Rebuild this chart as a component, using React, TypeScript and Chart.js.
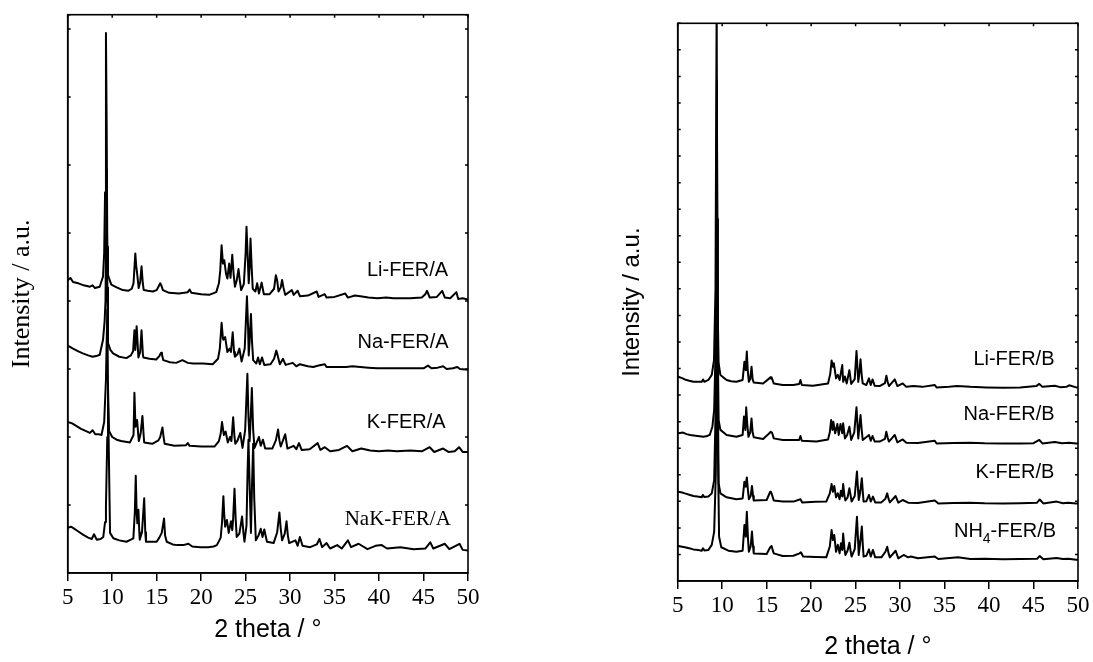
import React, { useEffect, useRef } from "react";
import { Chart, registerables } from "chart.js";
Chart.register(...registerables);

type Pt = [number, number];

const SANS = "'Liberation Sans', Arial, sans-serif";
const SERIF = "'Liberation Serif', 'Times New Roman', serif";

const xTicks = [5, 10, 15, 20, 25, 30, 35, 40, 45, 50];

// ---------- Panel A (left) ----------
const liA: Pt[] = [[5.0,431],[5.07,431],[5.3,434],[5.6,428],[6.2,426],[6.8,423],[7.5,421],[7.8,423],[8.07,419],[8.6,421],[8.97,436],[9.1,470],[9.2,560],[9.3,794],[9.38,660],[9.45,480],[9.53,438],[9.9,424],[10.5,420],[11.2,416],[11.8,415],[12.2,418],[12.4,426],[12.6,470],[12.7,452],[12.8,441],[12.98,419],[13.15,428],[13.3,451],[13.45,425],[13.55,416],[14.0,415],[14.56,414],[15.0,416],[15.2,421],[15.4,426],[15.55,422],[15.7,416],[16.4,412],[17.5,411],[18.5,413],[18.7,417],[18.9,412],[20.0,410],[20.9,409],[21.7,413],[22.0,426],[22.15,445],[22.3,482],[22.45,455],[22.6,460],[22.8,440],[22.95,433],[23.15,455],[23.3,434],[23.5,468],[23.65,440],[23.8,421],[24.0,430],[24.2,447],[24.35,430],[24.5,416],[24.8,425],[25.0,470],[25.1,509],[25.22,470],[25.35,426],[25.45,450],[25.55,492],[25.68,450],[25.8,418],[26.1,414],[26.3,426],[26.5,411],[26.8,427],[27.05,410],[27.7,410],[28.2,418],[28.4,438],[28.55,430],[28.7,414],[28.95,420],[29.1,431],[29.25,420],[29.45,409],[30.2,416],[30.4,409],[30.85,415],[31.1,407],[32.0,408],[33.0,414],[33.2,406],[33.9,410],[34.1,405],[35.0,406],[36.2,411],[36.5,405],[37.3,408],[37.9,407],[38.8,405],[39.8,404],[40.8,405],[41.6,404],[42.5,404],[43.5,404],[44.8,405],[45.2,410],[45.4,415],[45.7,405],[46.5,406],[47.1,415],[47.4,405],[48.0,404],[48.7,413],[48.9,403],[49.4,404],[50.0,402]];

const naA: Pt[] = [[5.0,334],[5.07,334],[5.6,330],[6.2,326],[6.7,323],[7.3,320],[7.8,318],[8.2,319],[8.6,321],[8.97,343],[9.15,370],[9.25,400],[9.38,593],[9.46,420],[9.53,338],[9.8,328],[10.1,323],[10.8,318],[11.6,316],[12.1,320],[12.35,326],[12.5,357],[12.6,328],[12.75,363],[12.95,317],[13.15,325],[13.3,357],[13.45,322],[13.5,317],[14.2,315],[14.95,314],[15.3,319],[15.5,324],[15.6,321],[15.75,313],[16.5,310],[17.2,309],[17.9,313],[18.5,309],[19.1,308],[20.2,308],[21.3,307],[21.9,315],[22.1,330],[22.3,368],[22.45,345],[22.5,343],[22.7,347],[22.95,325],[23.2,330],[23.35,325],[23.55,354],[23.7,325],[23.8,318],[24.1,322],[24.3,330],[24.55,311],[24.9,330],[25.15,407],[25.28,360],[25.35,320],[25.45,340],[25.6,381],[25.72,340],[25.85,313],[26.2,308],[26.4,317],[26.6,307],[26.85,317],[27.1,306],[27.8,307],[28.2,315],[28.45,327],[28.6,320],[28.85,307],[29.2,315],[29.5,306],[30.3,309],[30.7,304],[31.1,307],[32.0,304],[32.6,303],[33.2,305],[33.9,307],[34.1,303],[35.0,303],[36.3,303],[37.0,304],[37.9,303],[38.8,302],[39.8,301],[41.6,301],[43.5,301],[45.0,301],[45.5,305],[45.9,301],[46.6,302],[47.2,304],[47.6,300],[48.3,301],[48.8,303],[49.1,300],[50.0,299]];

const kA: Pt[] = [[5.0,222],[5.5,220],[6.0,216],[6.5,212],[7.0,209],[7.5,206],[7.8,210],[8.1,204],[8.5,204],[8.8,203],[9.1,222],[9.3,284],[9.45,387],[9.55,250],[9.65,209],[10.0,200],[10.5,196],[11.0,194],[12.0,192],[12.4,203],[12.5,265],[12.62,215],[12.8,225],[12.95,200],[13.0,194],[13.2,205],[13.4,231],[13.55,200],[13.6,192],[14.5,190],[15.2,195],[15.4,200],[15.65,214],[15.8,198],[15.9,190],[17.0,187],[18.3,188],[18.5,191],[18.7,187],[20.0,186],[21.5,186],[22.0,194],[22.2,205],[22.35,222],[22.55,203],[22.75,208],[23.0,192],[23.25,200],[23.4,194],[23.6,229],[23.75,200],[23.85,190],[24.1,195],[24.4,206],[24.65,184],[24.95,210],[25.2,293],[25.32,230],[25.45,194],[25.55,220],[25.7,272],[25.85,210],[26.0,184],[26.5,200],[26.7,187],[26.95,196],[27.2,183],[28.0,183],[28.4,195],[28.65,211],[28.8,195],[28.95,186],[29.2,195],[29.45,204],[29.7,183],[30.4,187],[30.7,182],[31.0,191],[31.3,181],[32.2,182],[33.1,191],[33.4,181],[33.9,185],[34.5,179],[35.5,181],[36.4,187],[37.0,179],[38.0,183],[39.0,180],[40.0,179],[41.0,180],[42.0,179],[43.5,180],[44.8,179],[45.7,185],[46.2,178],[47.2,183],[47.8,178],[48.5,179],[49.0,185],[49.4,178],[50.0,178]];

const nakA: Pt[] = [[5.0,67],[5.07,67],[5.4,68],[5.63,66],[6.2,61],[6.76,56],[7.3,52],[7.7,50],[7.96,57],[8.26,49],[8.7,50],[9.0,53],[9.2,75],[9.3,98],[9.45,200],[9.53,277],[9.62,180],[9.76,59],[10.13,51],[10.8,48],[11.6,46],[12.1,49],[12.38,51],[12.55,90],[12.65,143],[12.75,90],[12.83,73],[12.95,93],[13.05,60],[13.1,49],[13.35,60],[13.6,110],[13.72,60],[13.8,46],[14.5,46],[15.0,46],[15.3,52],[15.57,59],[15.83,80],[15.95,55],[16.13,46],[16.8,42],[17.3,41],[18.0,41],[18.57,43],[19.0,39],[19.9,38],[20.8,38],[21.4,39],[21.77,41],[22.2,52],[22.35,75],[22.5,113],[22.6,85],[22.7,68],[22.9,78],[23.1,59],[23.35,76],[23.5,63],[23.6,80],[23.75,124],[23.88,80],[24.0,53],[24.3,58],[24.6,83],[24.75,60],[24.87,46],[25.1,70],[25.22,150],[25.32,196],[25.45,130],[25.6,59],[25.72,130],[25.85,190],[25.97,110],[26.15,48],[26.45,55],[26.7,65],[26.9,53],[27.1,64],[27.4,46],[28.15,44],[28.55,60],[28.8,89],[28.95,65],[29.1,48],[29.4,58],[29.6,76],[29.75,55],[29.9,44],[30.6,48],[30.85,40],[31.1,53],[31.4,40],[32.25,38],[33.0,42],[33.3,50],[33.6,38],[34.1,44],[34.5,36],[35.3,41],[35.8,36],[36.5,48],[36.85,38],[37.7,43],[38.7,35],[39.6,40],[40.3,41],[40.9,36],[42.4,38],[43.9,35],[45.2,36],[45.76,45],[46.1,36],[47.4,43],[47.9,35],[49.05,43],[49.4,34],[50.0,33]];

// ---------- Panel B (right) ----------
const liB: Pt[] = [[5.0,769],[5.07,769],[5.5,764],[5.8,759],[6.3,754],[6.76,750],[7.3,750],[7.7,750],[7.85,759],[8.0,750],[8.45,757],[8.83,776],[9.08,832],[9.25,1100],[9.38,2200],[9.46,1100],[9.6,820],[9.8,776],[10.5,757],[11.0,752],[11.6,750],[12.3,757],[12.5,826],[12.65,794],[12.77,864],[12.88,790],[13.0,750],[13.15,760],[13.3,807],[13.42,760],[13.55,747],[14.6,744],[15.3,763],[15.4,767],[15.47,763],[15.55,767],[15.8,744],[16.8,738],[18.0,738],[18.65,742],[18.8,757],[18.95,738],[20.2,735],[21.9,744],[22.15,780],[22.3,830],[22.45,807],[22.55,820],[22.8,763],[23.0,776],[23.2,757],[23.5,813],[23.6,750],[23.8,770],[24.0,744],[24.3,794],[24.5,742],[24.9,760],[25.1,866],[25.3,750],[25.45,790],[25.55,835],[25.7,770],[25.8,744],[26.2,738],[26.5,763],[26.7,738],[26.9,759],[27.15,735],[27.7,734],[28.3,745],[28.46,773],[28.6,750],[28.75,734],[29.4,759],[29.7,734],[30.3,744],[30.7,731],[31.5,734],[32.5,731],[33.9,738],[34.1,729],[35.5,731],[36.4,734],[37.9,731],[39.7,729],[41.6,728],[43.5,729],[45.3,734],[45.65,742],[46.0,731],[47.4,735],[48.0,730],[48.7,731],[49.0,737],[49.8,729],[50.0,729]];

const naB: Pt[] = [[5.0,556],[5.07,556],[5.6,559],[6.0,553],[6.4,550],[7.0,547],[7.9,543],[8.3,546],[8.6,550],[8.9,581],[9.1,644],[9.28,900],[9.4,1886],[9.5,900],[9.6,606],[9.8,569],[10.5,550],[11.6,543],[12.3,550],[12.45,619],[12.6,569],[12.7,654],[12.82,590],[12.95,543],[13.15,560],[13.3,612],[13.42,560],[13.55,541],[14.6,535],[15.3,556],[15.45,562],[15.6,559],[15.8,537],[16.8,531],[18.0,531],[18.65,531],[18.8,546],[18.95,528],[20.6,525],[21.9,533],[22.1,560],[22.25,606],[22.4,569],[22.5,600],[22.7,556],[22.95,591],[23.1,550],[23.3,591],[23.5,556],[23.6,594],[23.8,537],[24.05,550],[24.3,581],[24.5,531],[24.85,560],[25.1,654],[25.3,537],[25.42,580],[25.55,625],[25.68,570],[25.8,531],[26.5,550],[26.7,528],[26.9,546],[27.15,525],[27.7,525],[28.3,535],[28.45,562],[28.6,540],[28.75,525],[29.4,550],[29.7,522],[30.3,533],[30.7,521],[32.0,520],[33.9,528],[34.1,518],[36.0,520],[37.9,521],[39.5,519],[41.6,518],[43.5,518],[45.0,519],[45.65,531],[46.0,518],[47.4,523],[48.2,519],[49.0,521],[49.8,518],[50.0,518]];

const kB: Pt[] = [[5.0,336],[5.07,336],[5.5,333],[5.8,330],[6.3,325],[6.76,320],[7.2,318],[7.7,315],[7.82,324],[8.0,316],[8.45,318],[8.83,330],[9.1,380],[9.3,700],[9.42,1363],[9.52,700],[9.6,368],[9.8,330],[10.5,315],[11.6,308],[12.3,311],[12.5,374],[12.65,355],[12.77,390],[12.9,340],[13.0,308],[13.2,320],[13.35,358],[13.47,320],[13.55,303],[15.0,305],[15.4,336],[15.48,333],[15.55,330],[15.8,303],[16.8,299],[18.0,299],[18.8,308],[19.0,296],[20.5,298],[21.7,299],[22.1,330],[22.3,365],[22.45,336],[22.6,358],[22.8,315],[23.0,330],[23.2,308],[23.35,340],[23.5,318],[23.6,365],[23.75,320],[23.85,303],[24.1,315],[24.3,349],[24.45,320],[24.55,299],[24.9,320],[25.15,412],[25.28,340],[25.35,305],[25.5,330],[25.7,387],[25.82,330],[25.9,299],[26.2,300],[26.5,324],[26.7,299],[26.95,318],[27.2,296],[27.9,296],[28.35,310],[28.55,330],[28.7,310],[28.85,296],[29.5,320],[29.8,295],[30.3,305],[30.9,295],[32.0,294],[33.9,303],[34.3,292],[36.0,294],[37.9,295],[39.5,293],[41.6,292],[43.5,293],[45.4,295],[45.7,307],[46.1,292],[47.6,299],[48.3,293],[48.9,295],[49.8,292],[50.0,292]];

const nh4B: Pt[] = [[5.0,132],[5.07,132],[5.5,129],[5.8,127],[6.3,123],[6.76,119],[7.3,117],[7.7,114],[7.85,123],[8.0,115],[8.45,117],[8.83,136],[9.1,186],[9.28,400],[9.42,945],[9.52,500],[9.65,167],[9.9,127],[10.7,114],[11.6,110],[12.3,114],[12.5,211],[12.65,167],[12.77,261],[12.9,160],[13.0,110],[13.2,130],[13.35,186],[13.47,130],[13.55,104],[15.0,102],[15.4,127],[15.55,132],[15.65,120],[15.8,104],[16.8,94],[18.0,95],[18.7,104],[18.85,108],[19.1,92],[20.5,90],[21.7,89],[22.1,130],[22.3,192],[22.45,154],[22.6,173],[22.8,110],[23.0,136],[23.2,104],[23.35,142],[23.5,117],[23.6,179],[23.75,120],[23.85,98],[24.1,115],[24.3,144],[24.45,110],[24.55,92],[24.9,120],[25.15,242],[25.28,150],[25.35,98],[25.5,140],[25.7,205],[25.82,130],[25.9,92],[26.2,95],[26.5,119],[26.7,92],[26.95,117],[27.2,89],[27.9,89],[28.35,110],[28.55,129],[28.7,105],[28.85,89],[29.5,114],[29.8,85],[30.4,98],[30.9,89],[31.2,92],[32.0,86],[33.9,92],[34.3,83],[36.5,89],[37.9,83],[39.5,84],[41.6,82],[43.5,83],[45.4,84],[45.7,94],[46.1,82],[47.6,87],[48.3,83],[48.9,84],[49.8,80],[50.0,80]];

const seriesA = [liA, naA, kA, nakA];
const seriesB = [liB, naB, kB, nh4B];

const namesA = ["Li-FER/A", "Na-FER/A", "K-FER/A", "NaK-FER/A"];
const namesB = ["Li-FER/B", "Na-FER/B", "K-FER/B", "NH4-FER/B"];
// label anchors in data coordinates (2θ, intensity)
const anchorsA: Pt[] = [[43.2, 445], [42.7, 339], [43.05, 222], [42.1, 79]];
const anchorsB: Pt[] = [[42.8, 834], [42.25, 626], [42.9, 407], [41.8, 186]];

const xTitle = "2 theta / \u00B0";
const yTitle = "Intensity / a.u.";

interface PanelCfg {
  series: Pt[][];
  names: string[];
  anchors: Pt[];
  labelFonts: string[];
  yMax: number;
  yStep: number;
  yWidth: number;
  xHeight: number;
  padTop: number;
  padRight: number;
  yTitleFont: string;
  yTitleSize: number;
  yTitlePad: number;
  xTitlePad: number;
}

function drawLabel(ctx: CanvasRenderingContext2D, text: string, cx: number, cy: number, font: string) {
  ctx.font = font;
  ctx.textBaseline = "middle";
  ctx.fillStyle = "#000";
  const m = text.match(/^(NH)(4)(.*)$/);
  if (m) {
    const subFont = font.replace(/\d+px/, "14px");
    const w1 = ctx.measureText(m[1]).width;
    const w3 = ctx.measureText(m[3]).width;
    ctx.font = subFont;
    const w2 = ctx.measureText(m[2]).width;
    const total = w1 + w2 + w3;
    let x = cx - total / 2;
    ctx.textAlign = "left";
    ctx.font = font;
    ctx.fillText(m[1], x, cy);
    x += w1;
    ctx.font = subFont;
    ctx.fillText(m[2], x, cy + 8);
    x += w2;
    ctx.font = font;
    ctx.fillText(m[3], x, cy);
  } else {
    ctx.textAlign = "center";
    ctx.fillText(text, cx, cy);
  }
}

function Panel({ cfg, left, width }: { cfg: PanelCfg; left: number; width: number }) {
  const ref = useRef<HTMLCanvasElement | null>(null);
  useEffect(() => {
    if (!ref.current) return;
    const framePlugin = {
      id: "frameAndLabels",
      afterDraw(chart: any) {
        const { ctx, chartArea } = chart;
        const { left: l, right: r, top: t, bottom: b } = chartArea;
        const xs = chart.scales.x;
        const ys = chart.scales.y;
        ctx.save();
        ctx.strokeStyle = "#000";
        ctx.lineWidth = 1.6;
        ctx.strokeRect(l, t, r - l, b - t);
        ctx.lineWidth = 1.5;
        ctx.beginPath();
        ys.ticks.forEach((tk: any) => {
          const py = ys.getPixelForValue(tk.value);
          ctx.moveTo(l, py); ctx.lineTo(l + 3, py);
          ctx.moveTo(r - 3, py); ctx.lineTo(r, py);
        });
        xs.ticks.forEach((tk: any) => {
          const px = xs.getPixelForValue(tk.value);
          ctx.moveTo(px, t); ctx.lineTo(px, t + 3);
        });
        ctx.stroke();
        cfg.names.forEach((name, i) => {
          const [ax, ay] = cfg.anchors[i];
          drawLabel(ctx, name, xs.getPixelForValue(ax), ys.getPixelForValue(ay), cfg.labelFonts[i]);
        });
        ctx.restore();
      },
    };
    const chart = new Chart(ref.current, {
      type: "line",
      data: {
        datasets: cfg.series.map((s, i) => ({
          label: cfg.names[i],
          data: s.map(([x, y]) => ({ x, y })),
          borderColor: "#000",
          borderWidth: 2,
          pointRadius: 0,
          tension: 0,
          fill: false,
          borderJoinStyle: "round",
        })),
      },
      options: {
        animation: false,
        responsive: true,
        maintainAspectRatio: false,
        events: [],
        layout: { padding: { top: cfg.padTop, right: cfg.padRight, left: 0, bottom: 0 } },
        plugins: { legend: { display: false }, tooltip: { enabled: false } },
        scales: {
          x: {
            type: "linear",
            min: 5,
            max: 50,
            afterBuildTicks: (sc: any) => { sc.ticks = xTicks.map((v) => ({ value: v })); },
            afterFit: (sc: any) => { sc.height = cfg.xHeight; },
            ticks: {
              color: "#000",
              font: { family: SERIF, size: 23 },
              padding: 3,
              maxRotation: 0,
              autoSkip: false,
            },
            grid: { display: true, drawOnChartArea: false, drawTicks: true, tickLength: 8, color: "#000", lineWidth: 1.5 },
            border: { display: true, color: "#000", width: 1.6 },
            title: {
              display: true,
              text: xTitle,
              color: "#000",
              font: { family: SANS, size: 25 },
              padding: { top: 0, bottom: cfg.xTitlePad },
            },
          },
          y: {
            type: "linear",
            min: 0,
            max: cfg.yMax,
            ticks: { display: false, stepSize: cfg.yStep },
            afterFit: (sc: any) => { sc.width = cfg.yWidth; },
            grid: { display: false },
            border: { display: true, color: "#000", width: 1.6 },
            title: {
              display: true,
              text: yTitle,
              color: "#000",
              font: { family: cfg.yTitleFont, size: cfg.yTitleSize },
              padding: { top: cfg.yTitlePad, bottom: 0 },
            },
          },
        },
      },
      plugins: [framePlugin],
    } as any);
    return () => chart.destroy();
  }, [cfg]);
  return (
    <div style={{ position: "absolute", left, top: 0, width, height: 662 }}>
      <canvas ref={ref} />
    </div>
  );
}

const cfgA: PanelCfg = {
  series: seriesA,
  names: namesA,
  anchors: anchorsA,
  labelFonts: [`20px ${SANS}`, `20px ${SANS}`, `20px ${SANS}`, `21px ${SERIF}`],
  yMax: 821,
  yStep: 100,
  yWidth: 67.7,
  xHeight: 89,
  padTop: 14.7,
  padRight: 78,
  yTitleFont: SERIF,
  yTitleSize: 26,
  yTitlePad: 7,
  xTitlePad: 17,
};

const cfgB: PanelCfg = {
  series: seriesB,
  names: namesB,
  anchors: anchorsB,
  labelFonts: [`20px ${SANS}`, `20px ${SANS}`, `20px ${SANS}`, `20px ${SANS}`],
  yMax: 2100,
  yStep: 100,
  yWidth: 131.7,
  xHeight: 81,
  padTop: 23.3,
  padRight: 15,
  yTitleFont: SANS,
  yTitleSize: 24,
  yTitlePad: 71.5,
  xTitlePad: 0,
};

export default function App() {
  return (
    <div style={{ position: "absolute", left: 0, top: 0, width: 1093, height: 662, background: "#fff", overflow: "hidden" }}>
      <Panel cfg={cfgA} left={0} width={546} />
      <Panel cfg={cfgB} left={546} width={547} />
    </div>
  );
}
